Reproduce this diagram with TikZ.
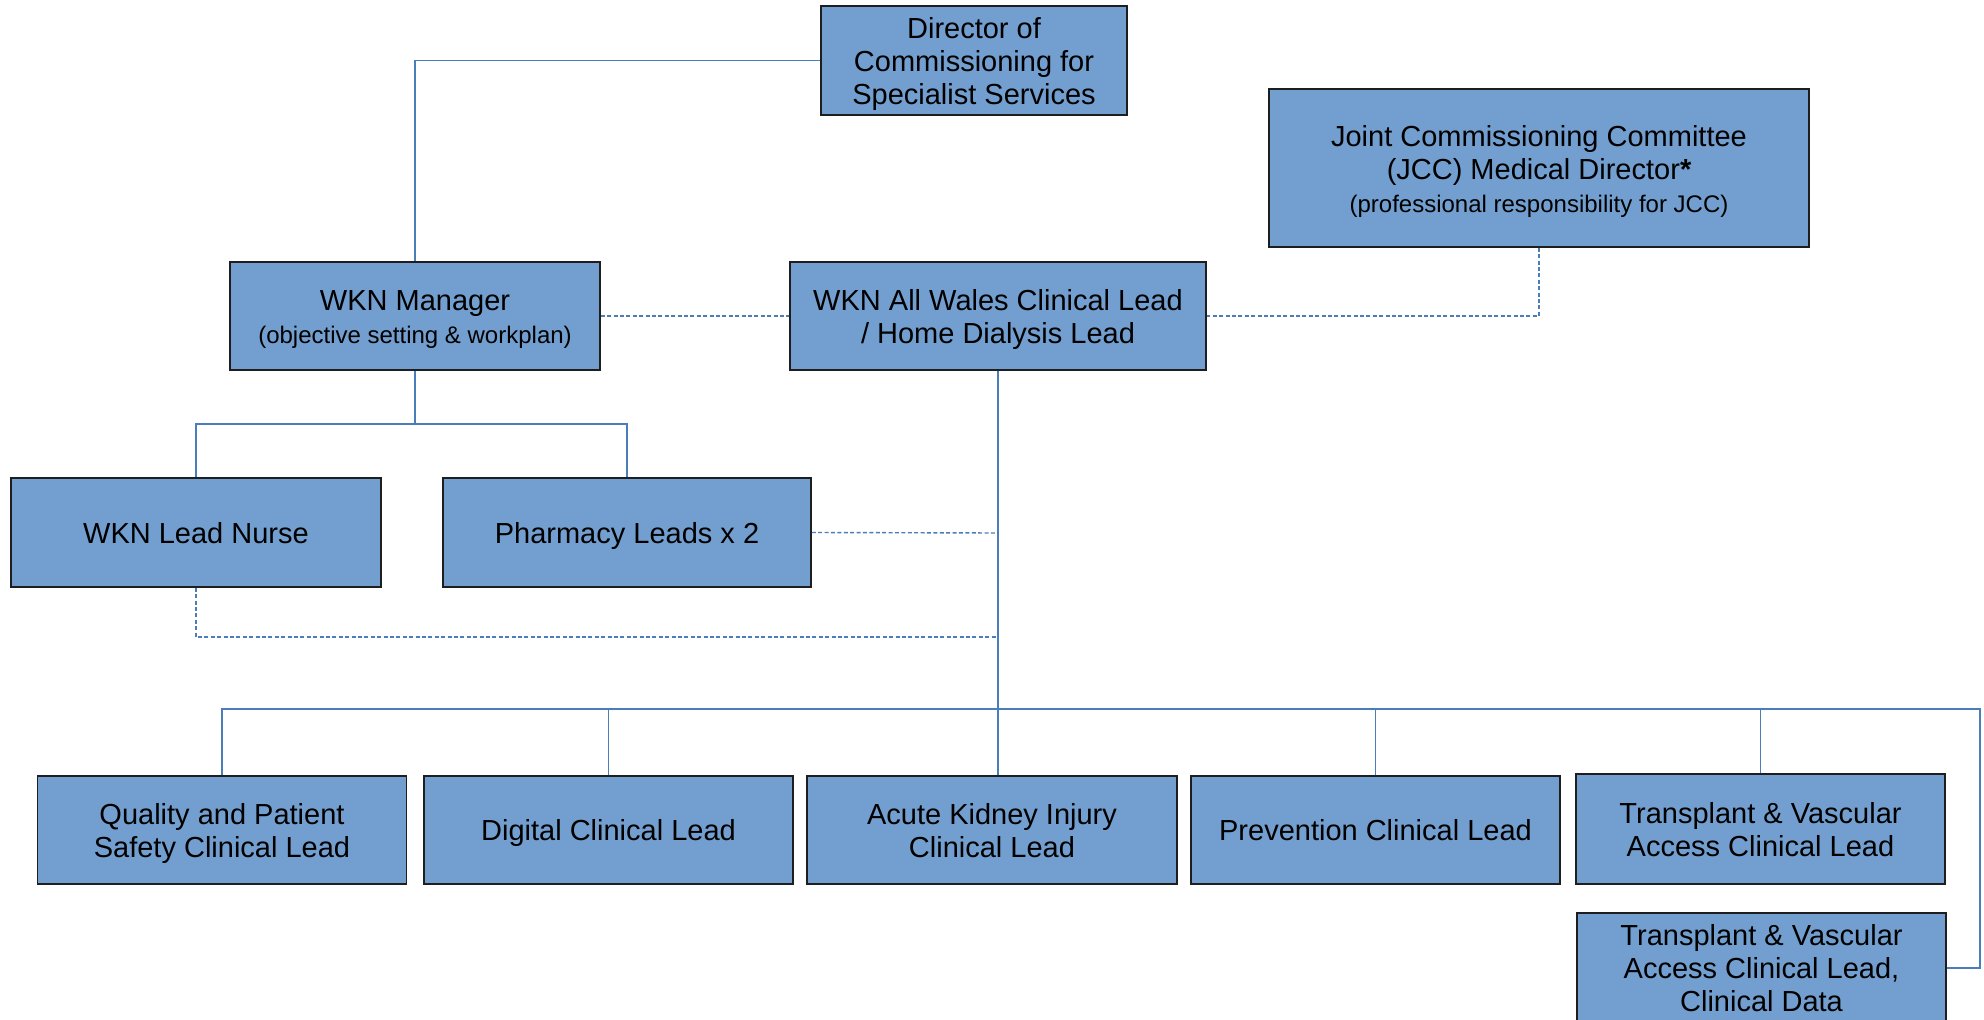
\documentclass[tikz,border=0pt]{standalone}
\usepackage{fontspec}
\setmainfont{Liberation Sans}
\definecolor{boxfill}{RGB}{114,159,207}
\definecolor{linkblue}{RGB}{74,126,187}
\definecolor{boxline}{RGB}{30,30,30}
\newcommand{\smalltxt}{\fontsize{12pt}{15pt}\selectfont}
\newcommand{\sttop}{\rule{0pt}{0.95em}}
\newcommand{\stbot}{\rule[-0.212em]{0pt}{0pt}}
\begin{document}
\begin{tikzpicture}[x=0.5pt,y=-0.5pt,
  box/.style={draw=boxline,line width=0.75pt,fill=boxfill,align=center,inner sep=0pt,
    font=\fontsize{14.5pt}{16.5pt}\selectfont},
  link/.style={draw=linkblue,line width=0.7pt},
  dlink/.style={link,dash pattern=on 2pt off 1.2pt}]
\clip (0,0) rectangle (1984,1020);
\fill[white] (0,0) rectangle (1984,1020);
% nodes
\node[box,minimum width=153pt,minimum height=54.5pt] (dir) at (974,60.5)
  {\sttop Director of\\Commissioning for\\Specialist Services\stbot};
\node[box,minimum width=270pt,minimum height=79pt] (jcc) at (1539,168)
  {\sttop Joint Commissioning Committee\\(JCC) Medical Director\textbf{*}\\{\smalltxt(professional responsibility for JCC)\stbot}};
\node[box,minimum width=185pt,minimum height=54pt] (mgr) at (415,316)
  {\sttop WKN Manager\\{\smalltxt(objective setting \& workplan)\stbot}};
\node[box,minimum width=208pt,minimum height=54pt] (awl) at (998,316)
  {\sttop WKN All Wales Clinical Lead\\/ Home Dialysis Lead\stbot};
\node[box,minimum width=185pt,minimum height=54.5pt] (nurse) at (196,532.5)
  {\sttop WKN Lead Nurse\stbot};
\node[box,minimum width=184pt,minimum height=54.5pt] (pharm) at (627,532.5)
  {\sttop Pharmacy Leads x 2\stbot};
\node[box,minimum width=184.5pt,minimum height=54pt] (b1) at (222,830)
  {\sttop Quality and Patient\\Safety Clinical Lead\stbot};
\node[box,minimum width=184.5pt,minimum height=54pt] (b2) at (608.5,830)
  {\sttop Digital Clinical Lead\stbot};
\node[box,minimum width=185pt,minimum height=54pt] (b3) at (992,830)
  {\sttop Acute Kidney Injury\\Clinical Lead\stbot};
\node[box,minimum width=184.5pt,minimum height=54pt] (b4) at (1375.5,830)
  {\sttop Prevention Clinical Lead\stbot};
\node[box,minimum width=184.5pt,minimum height=55pt] (b5) at (1760.5,829)
  {\sttop Transplant \& Vascular\\Access Clinical Lead\stbot};
\node[box,minimum width=184.5pt,minimum height=55pt] (b6) at (1761.5,968)
  {\sttop Transplant \& Vascular\\Access Clinical Lead,\\Clinical Data\stbot};
% coordinates
\coordinate (j1) at (415,424);
\coordinate (busL) at (222,709);
\coordinate (busR) at (1980,709);
\coordinate (pj) at (998,533);
\coordinate (nj) at (998,637);
% solid connectors
\draw[link] (dir.west) -| (mgr.north);
\draw[link] (mgr.south) -- (j1);
\draw[link] (nurse.north) |- (j1) -| (pharm.north);
\draw[link] (awl.south) -- (awl.south |- b3.north);
\draw[link] (b1.north) -- (busL) -- (busR) |- (b6.east);
\draw[link] (b2.north) -- (b2.north |- busL);
\draw[link] (b4.north) -- (b4.north |- busL);
\draw[link] (b5.north) -- (b5.north |- busL);
% dashed connectors
\draw[dlink] (mgr.east) -- (awl.west);
\draw[dlink] (jcc.south) |- (awl.east);
\draw[dlink] (pharm.east) -- (pj);
\draw[dlink] (nurse.south) |- (nj) -- ++(0,8);
\end{tikzpicture}
\end{document}
